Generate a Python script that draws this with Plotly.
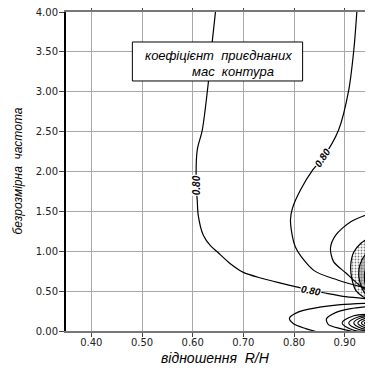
import plotly.graph_objects as go

# x ticks / y ticks
x_ticks = [0.40, 0.50, 0.60, 0.70, 0.80, 0.90]
x_tick_text = ["0.40", "0.50", "0.60", "0.70", "0.80", "0.90"]
y_ticks = [0.0, 0.5, 1.0, 1.5, 2.0, 2.5, 3.0, 3.5, 4.0]
y_tick_text = ["0.00", "0.50", "1.00", "1.50", "2.00", "2.50", "3.00", "3.50", "4.00"]

# contour lines
line_a_x = [0.645, 0.639, 0.631, 0.619, 0.609, 0.607, 0.609, 0.611, 0.621, 0.635, 0.649, 0.675, 0.700, 0.734, 0.774, 0.807, 0.833, 0.858, 0.902, 0.953]
line_a_y = [4.00, 3.65, 3.12, 2.52, 2.27, 1.83, 1.64, 1.45, 1.20, 1.07, 0.99, 0.84, 0.735, 0.665, 0.60, 0.55, 0.51, 0.48, 0.43, 0.40]

line_b_x = [0.924, 0.918, 0.908, 0.888, 0.857, 0.837, 0.813, 0.797, 0.793, 0.803, 0.839, 0.886, 0.953]
line_b_y = [4.00, 3.52, 3.02, 2.52, 2.17, 2.02, 1.77, 1.54, 1.39, 1.05, 0.76, 0.64, 0.52]

line_c_x = [0.953, 0.912, 0.882, 0.872, 0.878, 0.902, 0.928, 0.953]
line_c_y = [1.48, 1.37, 1.20, 1.04, 0.87, 0.73, 0.58, 0.47]

loop_e1_x = [0.953, 0.892, 0.843, 0.809, 0.791, 0.799, 0.823, 0.845]
loop_e1_y = [0.35, 0.33, 0.29, 0.24, 0.16, 0.09, 0.03, -0.01]

loop_e2_x = [0.953, 0.912, 0.882, 0.864, 0.868, 0.892, 0.918]
loop_e2_y = [0.31, 0.28, 0.23, 0.15, 0.08, 0.03, -0.01]

inner_loops_x = [
    [0.953, 0.918, 0.895, 0.918, 0.953],
    [0.953, 0.928, 0.908, 0.928, 0.953],
    [0.953, 0.934, 0.918, 0.934, 0.953],
    [0.953, 0.939, 0.926, 0.939, 0.953],
    [0.953, 0.943, 0.933, 0.943, 0.953],
    [0.953, 0.946, 0.939, 0.946, 0.953],
    [0.953, 0.949, 0.944, 0.949, 0.953],
]
inner_loops_y = [
    [0.21, 0.19, 0.10, 0.01, -0.01],
    [0.195, 0.18, 0.10, 0.02, 0.005],
    [0.18, 0.168, 0.10, 0.032, 0.02],
    [0.165, 0.155, 0.10, 0.045, 0.035],
    [0.15, 0.142, 0.10, 0.058, 0.05],
    [0.138, 0.132, 0.10, 0.068, 0.062],
    [0.125, 0.121, 0.10, 0.079, 0.075],
]

# shaded (high value) regions near the right edge
region1_x = [0.953, 0.932, 0.918, 0.912, 0.914, 0.922, 0.936, 0.953]
region1_y = [1.19, 1.10, 0.99, 0.83, 0.66, 0.51, 0.43, 0.39]
region2_x = [0.953, 0.940, 0.930, 0.928, 0.934, 0.943, 0.953]
region2_y = [1.02, 0.95, 0.83, 0.68, 0.54, 0.45, 0.43]
region3_x = [0.953, 0.943, 0.939, 0.943, 0.953]
region3_y = [0.87, 0.80, 0.68, 0.55, 0.49]

# contour labels
label_text = ["0.80", "0.80", "0.80"]
label_x = [0.607, 0.857, 0.833]
label_y = [1.83, 2.17, 0.51]
label_angle = [-90, -57, 10]

fig = go.Figure()

line_style = dict(color="black", width=1.2, shape="spline", smoothing=0.8)

# shaded regions
fig.add_trace(go.Scatter(x=region1_x, y=region1_y, mode="lines", fill="toself",
                         fillcolor="white",
                         fillpattern=dict(shape=".", size=3, solidity=0.3, fgcolor="black", bgcolor="white"),
                         line=line_style, hoverinfo="skip", showlegend=False))
fig.add_trace(go.Scatter(x=region2_x, y=region2_y, mode="lines", fill="toself",
                         fillcolor="#999",
                         fillpattern=dict(shape=".", size=3, solidity=0.5, fgcolor="#333", bgcolor="#ccc"),
                         line=line_style, hoverinfo="skip", showlegend=False))
fig.add_trace(go.Scatter(x=region3_x, y=region3_y, mode="lines", fill="toself",
                         fillcolor="#555",
                         fillpattern=dict(shape=".", size=2, solidity=0.6, fgcolor="#111", bgcolor="#777"),
                         line=line_style, hoverinfo="skip", showlegend=False))

for xs, ys in [(line_a_x, line_a_y), (line_b_x, line_b_y), (line_c_x, line_c_y),
               (loop_e1_x, loop_e1_y), (loop_e2_x, loop_e2_y)]:
    fig.add_trace(go.Scatter(x=xs, y=ys, mode="lines", line=line_style,
                             hoverinfo="skip", showlegend=False))

for xs, ys in zip(inner_loops_x, inner_loops_y):
    fig.add_trace(go.Scatter(x=xs, y=ys, mode="lines",
                             line=dict(color="black", width=1.1, shape="spline", smoothing=1.0),
                             hoverinfo="skip", showlegend=False))

for t, lx, ly, ang in zip(label_text, label_x, label_y, label_angle):
    fig.add_annotation(x=lx, y=ly, text="<b><i>" + t + "</i></b>", showarrow=False,
                       textangle=ang, bgcolor="white", borderpad=0,
                       font=dict(family="Liberation Sans", size=10, color="black"))

# title box
fig.add_shape(type="rect", xref="x", yref="y", x0=0.481, x1=0.817, y0=3.135, y1=3.624,
              line=dict(color="black", width=1), fillcolor="white", layer="above")
fig.add_annotation(x=0.651, y=3.46, xref="x", yref="y", showarrow=False,
                   text="<i>коефіцієнт\u00a0\u00a0приєднаних</i>",
                   font=dict(family="Liberation Sans", size=13, color="black"))
fig.add_annotation(x=0.679, y=3.26, xref="x", yref="y", showarrow=False,
                   text="<i>мас\u00a0\u00a0контура</i>",
                   font=dict(family="Liberation Sans", size=13, color="black"))

# axis titles
fig.add_annotation(x=0.493, y=-0.084, xref="paper", yref="paper", showarrow=False,
                   text="<i>відношення\u00a0\u00a0R/H</i>", yanchor="middle",
                   font=dict(family="Liberation Sans", size=14, color="black"))
fig.add_annotation(x=-0.161, y=0.50, xref="paper", yref="paper", showarrow=False,
                   text="<i>безрозмірна\u00a0\u00a0частота</i>", textangle=-90,
                   xanchor="center", yanchor="middle",
                   font=dict(family="Liberation Sans", size=12, color="black"))

# the page body adds an 8px offset, so the figure is sized to fit the window
fig.update_layout(
    width=365, height=362,
    margin=dict(l=58, r=3, t=4, b=39, autoexpand=False),
    plot_bgcolor="white", paper_bgcolor="white",
    showlegend=False,
    xaxis=dict(range=[0.35, 0.95], tickvals=x_ticks, ticktext=x_tick_text,
               showgrid=True, gridcolor="#a8a8a8", gridwidth=1,
               ticks="outside", ticklen=4, tickcolor="#444",
               showline=True, linecolor="#777", linewidth=1.5, mirror="ticks",
               zeroline=False, automargin=False, ticklabeloverflow="allow",
               ticklabelstandoff=-3,
               tickfont=dict(family="DejaVu Sans", size=10, color="#222")),
    yaxis=dict(range=[0, 4], tickvals=y_ticks, ticktext=y_tick_text,
               showgrid=True, gridcolor="#a8a8a8", gridwidth=1,
               ticks="outside", ticklen=5, tickcolor="#444",
               showline=True, linecolor="black", linewidth=2, mirror=True,
               zeroline=False, automargin=False, ticklabeloverflow="allow",
               ticklabelstandoff=-1,
               tickfont=dict(family="DejaVu Sans", size=10, color="#222")),
)

fig.write_html("out.html")
